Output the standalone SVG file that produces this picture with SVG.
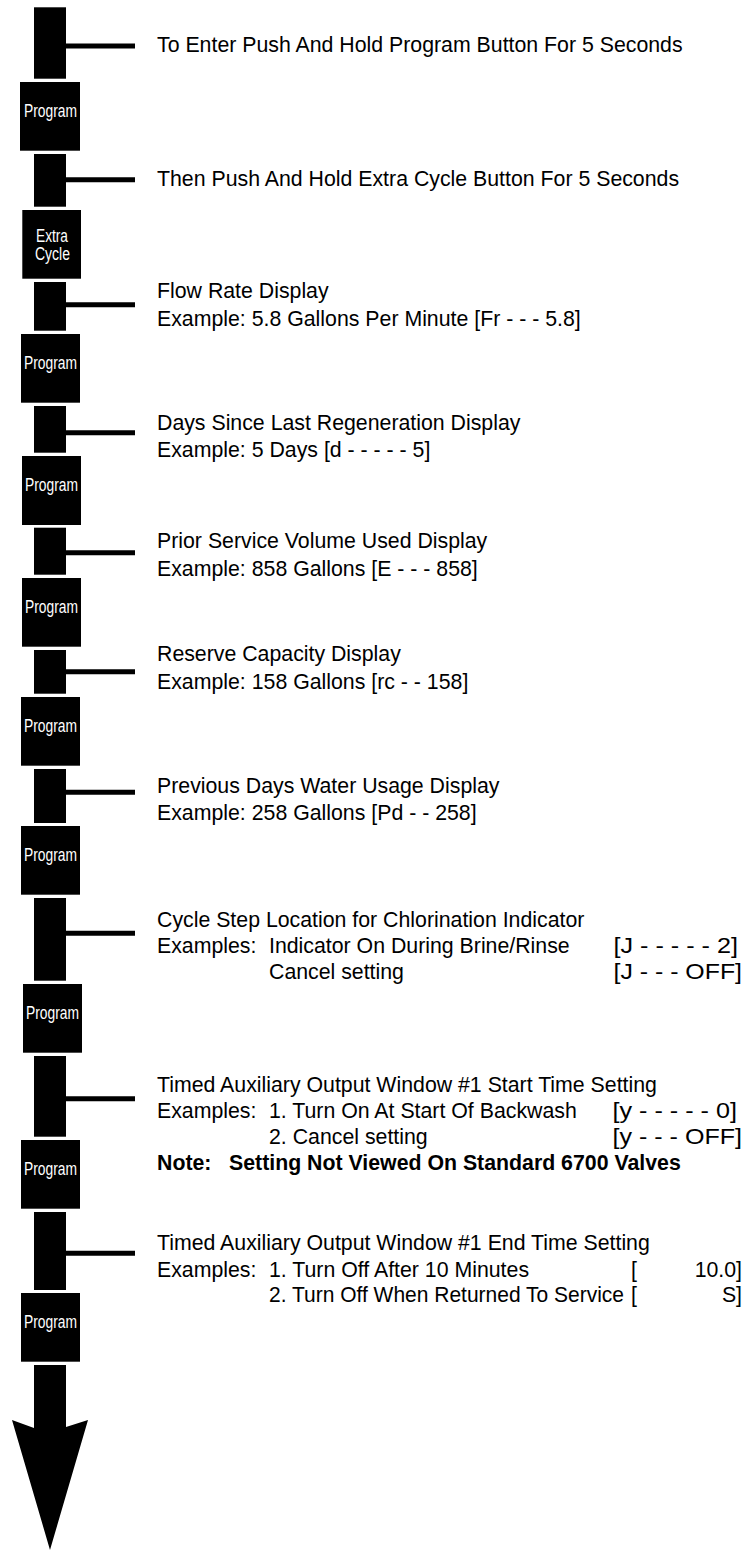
<svg xmlns="http://www.w3.org/2000/svg" width="752" height="1550" viewBox="0 0 752 1550">
<style>
.bar{fill:#000}
.box{fill:#000}
.conn{stroke:#000;stroke-width:5;fill:none}
.t{font-family:"Liberation Sans",Arial,sans-serif;font-size:21.3px;fill:#000}
.b{font-weight:bold}
.bt{font-family:"Liberation Sans",Arial,sans-serif;font-size:17.5px;fill:#fff;text-anchor:middle}
</style>
<rect width="752" height="1550" fill="#fff"/>
<g id="connectors">
<line class="conn" x1="66" y1="46" x2="135" y2="46"/>
<line class="conn" x1="66" y1="179.7" x2="135" y2="179.7"/>
<line class="conn" x1="66" y1="304.7" x2="135" y2="304.7"/>
<line class="conn" x1="66" y1="432.7" x2="135" y2="432.7"/>
<line class="conn" x1="66" y1="552.7" x2="135" y2="552.7"/>
<line class="conn" x1="66" y1="671.7" x2="135" y2="671.7"/>
<line class="conn" x1="66" y1="792.3" x2="135" y2="792.3"/>
<line class="conn" x1="66" y1="933.3" x2="135" y2="933.3"/>
<line class="conn" x1="66" y1="1098.7" x2="135" y2="1098.7"/>
<line class="conn" x1="66" y1="1253.3" x2="135" y2="1253.3"/>
</g>
<g id="bars">
<rect class="bar" x="34" y="7.3" width="32" height="71.4"/>
<rect class="bar" x="34" y="154" width="32" height="52.7"/>
<rect class="bar" x="34" y="282" width="32" height="48.7"/>
<rect class="bar" x="34" y="406" width="32" height="46.7"/>
<rect class="bar" x="34" y="527.7" width="32" height="47"/>
<rect class="bar" x="34" y="650" width="32" height="43.7"/>
<rect class="bar" x="34" y="769" width="32" height="54"/>
<rect class="bar" x="34" y="898" width="32" height="82.7"/>
<rect class="bar" x="34" y="1056" width="32" height="80.7"/>
<rect class="bar" x="34" y="1212" width="32" height="78"/>
</g>
<g id="btn1"><rect class="box" x="20" y="82" width="60" height="68.7"/><text class="bt" x="50.5" y="117" textLength="53" lengthAdjust="spacingAndGlyphs">Program</text></g>
<g id="btn2"><rect class="box" x="22.3" y="210" width="58.7" height="68.7"/><text class="bt" x="52" y="241.7" font-size="16.5" textLength="32" lengthAdjust="spacingAndGlyphs">Extra</text><text class="bt" x="52.5" y="260" font-size="16.5" textLength="35" lengthAdjust="spacingAndGlyphs">Cycle</text></g>
<g id="btn3"><rect class="box" x="21" y="334" width="59" height="68.7"/><text class="bt" x="50.5" y="369" textLength="53" lengthAdjust="spacingAndGlyphs">Program</text></g>
<g id="btn4"><rect class="box" x="22" y="456" width="59" height="69"/><text class="bt" x="51.5" y="491" textLength="53" lengthAdjust="spacingAndGlyphs">Program</text></g>
<g id="btn5"><rect class="box" x="22" y="578" width="59" height="68.7"/><text class="bt" x="51.5" y="613" textLength="53" lengthAdjust="spacingAndGlyphs">Program</text></g>
<g id="btn6"><rect class="box" x="21" y="697" width="59" height="68.7"/><text class="bt" x="50.5" y="732" textLength="53" lengthAdjust="spacingAndGlyphs">Program</text></g>
<g id="btn7"><rect class="box" x="21" y="826" width="59" height="68.7"/><text class="bt" x="50.5" y="861" textLength="53" lengthAdjust="spacingAndGlyphs">Program</text></g>
<g id="btn8"><rect class="box" x="23" y="984" width="59" height="68.7"/><text class="bt" x="52.5" y="1019" textLength="53" lengthAdjust="spacingAndGlyphs">Program</text></g>
<g id="btn9"><rect class="box" x="21" y="1140" width="59" height="68.7"/><text class="bt" x="50.5" y="1175" textLength="53" lengthAdjust="spacingAndGlyphs">Program</text></g>
<g id="btn10"><rect class="box" x="21" y="1293" width="59" height="68.7"/><text class="bt" x="50.5" y="1328" textLength="53" lengthAdjust="spacingAndGlyphs">Program</text></g>
<g id="arrow"><polygon fill="#000" points="34,1365 66,1365 66,1427 88,1420 50,1550 12,1420 34,1428"/></g>
<g id="txt1"><text class="t" x="157" y="52">To Enter Push And Hold Program Button For 5 Seconds</text></g>
<g id="txt2"><text class="t" x="157" y="185.5">Then Push And Hold Extra Cycle Button For 5 Seconds</text></g>
<g id="txt3"><text class="t" x="157" y="298">Flow Rate Display</text><text class="t" x="157" y="326">Example: 5.8 Gallons Per Minute [Fr - - - 5.8]</text></g>
<g id="txt4"><text class="t" x="157" y="430">Days Since Last Regeneration Display</text><text class="t" x="157" y="457">Example: 5 Days [d - - - - - 5]</text></g>
<g id="txt5"><text class="t" x="157" y="548">Prior Service Volume Used Display</text><text class="t" x="157" y="576">Example: 858 Gallons [E - - - 858]</text></g>
<g id="txt6"><text class="t" x="157" y="661">Reserve Capacity Display</text><text class="t" x="157" y="689">Example: 158 Gallons [rc - - 158]</text></g>
<g id="txt7"><text class="t" x="157" y="793">Previous Days Water Usage Display</text><text class="t" x="157" y="820">Example: 258 Gallons [Pd - - 258]</text></g>
<g id="txt8"><text class="t" x="157" y="926.5">Cycle Step Location for Chlorination Indicator</text>
<text class="t" x="157" y="952.5">Examples:</text><text class="t" x="269" y="952.5">Indicator On During Brine/Rinse</text><text class="t" x="613.5" y="952.5" textLength="124.5" lengthAdjust="spacingAndGlyphs">[J - - - - - 2]</text>
<text class="t" x="269" y="978.5">Cancel setting</text><text class="t" x="613.5" y="978.5" textLength="128.5" lengthAdjust="spacingAndGlyphs">[J - - - OFF]</text></g>
<g id="txt9"><text class="t" x="157" y="1092">Timed Auxiliary Output Window #1 Start Time Setting</text>
<text class="t" x="157" y="1118">Examples:</text><text class="t" x="269" y="1118">1. Turn On At Start Of Backwash</text><text class="t" x="612.5" y="1118" textLength="124.5" lengthAdjust="spacingAndGlyphs">[y - - - - - 0]</text>
<text class="t" x="269" y="1143.5">2. Cancel setting</text><text class="t" x="612.5" y="1143.5" textLength="129.5" lengthAdjust="spacingAndGlyphs">[y - - - OFF]</text>
<text class="t b" x="157" y="1170">Note:</text><text class="t b" x="229" y="1170">Setting Not Viewed On Standard 6700 Valves</text></g>
<g id="txt10"><text class="t" x="157" y="1250">Timed Auxiliary Output Window #1 End Time Setting</text>
<text class="t" x="157" y="1276.5">Examples:</text><text class="t" x="269" y="1276.5">1. Turn Off After 10 Minutes</text><text class="t" x="631" y="1276.5">[</text><text class="t" x="742" y="1276.5" text-anchor="end">10.0]</text>
<text class="t" x="269" y="1302" textLength="355" lengthAdjust="spacingAndGlyphs">2. Turn Off When Returned To Service</text><text class="t" x="631" y="1302">[</text><text class="t" x="742" y="1302" text-anchor="end">S]</text></g>
</svg>
